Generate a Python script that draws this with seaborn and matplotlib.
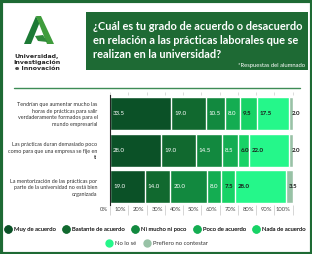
import matplotlib
matplotlib.use('Agg')
import matplotlib.pyplot as plt
import matplotlib.transforms as mtransforms
from matplotlib.patches import Rectangle, Polygon
from matplotlib.lines import Line2D
import seaborn as sns
import pandas as pd

categories = [
    "Tendrían que aumentar mucho las\nhoras de prácticas para salir\nverdaderamente formados para el\nmundo empresarial",
    "Las prácticas duran demasiado poco\ncomo para que una empresa se fije en\nti",
    "La mentorización de las prácticas por\nparte de la universidad no está bien\norganizada",
]
series = ["Muy de acuerdo", "Bastante de acuerdo", "Ni mucho ni poco", "Poco de acuerdo",
          "Nada de acuerdo", "No lo sé", "Prefiero no contestar"]
muy_de_acuerdo = [33.5, 28.0, 19.0]
bastante_de_acuerdo = [19.0, 19.0, 14.0]
ni_mucho_ni_poco = [10.5, 14.5, 20.0]
poco_de_acuerdo = [8.0, 8.5, 8.0]
nada_de_acuerdo = [9.5, 6.0, 7.5]
no_lo_se = [17.5, 22.0, 28.0]
prefiero_no_contestar = [2.0, 2.0, 3.5]
tick_values = [0, 10, 20, 30, 40, 50, 60, 70, 80, 90, 100]
tick_labels = ["0%", "10%", "20%", "30%", "40%", "50%", "60%", "70%", "80%", "90%", "100%"]
title = "¿Cuál es tu grado de acuerdo o desacuerdo\nen relación a las prácticas laborales que se\nrealizan en la universidad?"
subtitle = "*Respuestas del alumnado"
logo_text = "Universidad,\nInvestigación\ne Innovación"

colors = ["#0b5127", "#11692f", "#12893f", "#14ad52", "#17d366", "#25f78a", "#98c2a6"]
label_colors = ["white", "white", "white", "white", "#1a1a1a", "#1a1a1a", "#1a1a1a"]
dark_green = "#1e6a34"

sns.set_theme(style="white")
plt.rcParams['font.family'] = ['Lato', 'DejaVu Sans']

df = pd.DataFrame({"cat": categories})
for s, v in zip(series, [muy_de_acuerdo, bastante_de_acuerdo, ni_mucho_ni_poco, poco_de_acuerdo,
                         nada_de_acuerdo, no_lo_se, prefiero_no_contestar]):
    df[s] = v
cum = df[series].cumsum(axis=1)

W, H = 312, 254
fig = plt.figure(figsize=(W / 100, H / 100), dpi=100)
fig.patch.set_facecolor("white")

# overlay for decorations (pixel coordinates)
ov = fig.add_axes([0, 0, 1, 1])
ov.set_xlim(0, W)
ov.set_ylim(H, 0)
ov.axis("off")
ov.set_zorder(0)
ov.add_patch(Rectangle((0.5, 0.5), W - 1, H - 1, fill=False, edgecolor=dark_green, lw=3))
ov.add_patch(Rectangle((86, 12), 222, 58, facecolor=dark_green, edgecolor="none"))
ov.text(93, 40.5, title, color="white", fontsize=7.9, fontweight="bold", va="center", ha="left",
        linespacing=1.3)
ov.text(305, 65.5, subtitle, color="white", fontsize=4.2, va="center", ha="right")
ov.plot([14, 300], [88, 88], color="#3d8c55", lw=1)
# logo
ov.add_patch(Polygon([(24, 44), (31, 44), (39.5, 23), (36, 16)], closed=True,
                     facecolor="#1d7a36", edgecolor="none"))
ov.add_patch(Polygon([(36, 16), (41, 16), (54, 44), (47, 44)], closed=True,
                     facecolor="#3f9c3c", edgecolor="none"))
ov.add_patch(Polygon([(35, 36), (43, 35), (47.5, 42), (38, 41)], closed=True,
                     facecolor="#2f8a3a", edgecolor="none"))
ov.text(37, 62.5, logo_text, color="#2a2a2a", fontsize=4.5, fontweight="heavy",
        family=["DejaVu Sans"], ha="center", va="center", linespacing=1.15)

# main chart
ax = fig.add_axes([110 / W, 1 - 205 / H, 182.5 / W, 110 / H])
ax.set_zorder(1)
ax.patch.set_alpha(0)
for i in reversed(range(len(series))):
    sns.barplot(x=cum[series[i]], y=df["cat"], color=colors[i], orient="h", width=0.9,
                saturation=1, ax=ax)

off = mtransforms.ScaledTranslation(3 / 100, 0, fig.dpi_scale_trans)
for r in range(len(categories)):
    start = 0.0
    for i, s in enumerate(series):
        v = df.loc[r, s]
        ax.text(start, r, f"{v:.1f}", transform=ax.transData + off, ha="left", va="center",
                fontsize=4.4, color=label_colors[i],
                fontweight="bold" if i >= 4 else "normal")
        start += v

ax.set_xlim(0, 100)
ax.set_ylim(2.5, -0.5)
ax.set_xlabel("")
ax.set_ylabel("")
ax.set_xticks(tick_values)
ax.set_xticklabels(tick_labels, ha="right")
ax.tick_params(axis="x", bottom=True, length=7.5, width=0.6, color="#d0d0d0", pad=-6.3,
               labelsize=4.2, labelcolor="#444444")
lab_off = mtransforms.ScaledTranslation(-2 / 100, 0, fig.dpi_scale_trans)
for t in ax.get_xticklabels():
    t.set_transform(t.get_transform() + lab_off)
ax.tick_params(axis="y", left=False, pad=3, labelsize=3.9, labelcolor="#333333")
for t in ax.get_yticklabels():
    t.set_linespacing(1.35)
for sp in ["top", "right", "bottom"]:
    ax.spines[sp].set_visible(False)
ax.spines["left"].set_color("#222222")
ax.spines["left"].set_linewidth(0.8)

sec = ax.secondary_xaxis("top")
sec.set_xticks(tick_values)
sec.set_xticklabels([])
sec.tick_params(length=2, width=0.5, color="#cccccc")
sec.spines["top"].set_visible(False)

handles = [Line2D([], [], marker="o", linestyle="", markerfacecolor=c, markeredgecolor=c,
                  markersize=5) for c in colors]
leg1 = fig.legend(handles=handles[:5], labels=series[:5], loc="center",
                  bbox_to_anchor=(0.495, 1 - 229 / H), ncol=5, frameon=False, fontsize=4.2,
                  handletextpad=0.2, columnspacing=1.0, handlelength=1.6, labelcolor="#333333")
leg2 = fig.legend(handles=handles[5:], labels=series[5:], loc="center",
                  bbox_to_anchor=(0.5, 1 - 243 / H), ncol=2, frameon=False, fontsize=4.2,
                  handletextpad=0.2, columnspacing=1.0, handlelength=1.6, labelcolor="#333333")
fig.add_artist(leg1)

fig.savefig("out.png", dpi=100)
